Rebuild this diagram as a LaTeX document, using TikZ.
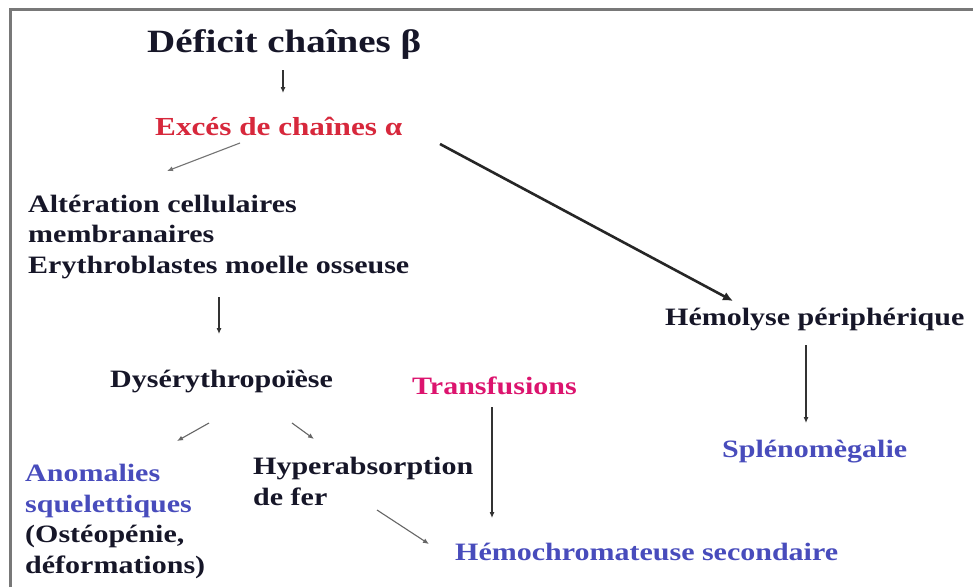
\documentclass[tikz,border=0pt]{standalone}
\usepackage{fontspec}
\setmainfont{Liberation Serif}[FakeStretch=1.2]
\usetikzlibrary{arrows.meta}
\definecolor{txtblack}{RGB}{22,22,40}
\definecolor{txtred}{RGB}{215,40,60}
\definecolor{txtmag}{RGB}{220,20,110}
\definecolor{txtblue}{RGB}{72,76,188}
\definecolor{framegray}{RGB}{120,120,120}
\definecolor{arrgray}{RGB}{50,50,50}
\begin{document}
\begin{tikzpicture}[x=1pt,y=-1pt,
  lbl/.style={anchor=base west, inner sep=0pt, align=left, text=txtblack,
    font=\bfseries\fontsize{25}{30.5}\selectfont},
  arr/.style={draw=arrgray, line width=1.1pt, -{Latex[length=6pt,width=5pt]}},
  thickarr/.style={draw=black!85, line width=2.6pt, -{Latex[length=10pt,width=9pt]}}]
\useasboundingbox (0,0) rectangle (973,587);
\fill[white] (0,0) rectangle (973,587);
% frame
\draw[framegray, line width=3pt] (10,587) -- (10,9) -- (973,9);
% texts (multi-line nodes are placed by the baseline of their last line)
\node[lbl, font=\bfseries\fontsize{32.5}{34}\selectfont] (def) at (147,52) {Déficit chaînes β};
\node[lbl, text=txtred, font=\bfseries\fontsize{26}{30}\selectfont] (exc) at (155,135) {Excés de chaînes α};
\node[lbl] (alt) at (28,273) {Altération cellulaires\\membranaires\\Erythroblastes moelle osseuse};
\node[lbl] (dys) at (110,387) {Dysérythropoïèse};
\node[lbl] (ano) at (25,573) {\textcolor{txtblue}{Anomalies}\\\textcolor{txtblue}{squelettiques}\\(Ostéopénie,\\déformations)};
\node[lbl] (hyp) at (253,505) {Hyperabsorption\\de fer};
\node[lbl, text=txtmag] (tra) at (412,394) {Transfusions};
\node[lbl, text=txtblue] (hem) at (455,560) {Hémochromateuse secondaire};
\node[lbl] (hly) at (665,325) {Hémolyse périphérique};
\node[lbl, text=txtblue] (spl) at (722,457) {Splénomègalie};
% arrow end points
\coordinate (a1s) at (283,70);  \coordinate (a1e) at (283,93);
\coordinate (a2s) at (240,143); \coordinate (a2e) at (167,171);
\coordinate (a3s) at (440,144); \coordinate (a3e) at (733,301);
\coordinate (a4s) at (219,297); \coordinate (a4e) at (219,334);
\coordinate (a5s) at (209,423); \coordinate (a5e) at (177,441);
\coordinate (a6s) at (292,423); \coordinate (a6e) at (314,439);
\coordinate (a7s) at (377,510); \coordinate (a7e) at (429,544);
\coordinate (a8s) at (492,407); \coordinate (a8e) at (492,518);
\coordinate (a9s) at (806,345); \coordinate (a9e) at (806,423);
% connectors
\draw[arr] (a1s) -- (a1e);
\draw[arr, draw=black!55] (a2s) -- (a2e);
\draw[thickarr] (a3s) -- (a3e);
\draw[arr] (a4s) -- (a4e);
\draw[arr, draw=black!60] (a5s) -- (a5e);
\draw[arr, draw=black!60] (a6s) -- (a6e);
\draw[arr, draw=black!60] (a7s) -- (a7e);
\draw[arr] (a8s) -- (a8e);
\draw[arr] (a9s) -- (a9e);
\end{tikzpicture}
\end{document}
